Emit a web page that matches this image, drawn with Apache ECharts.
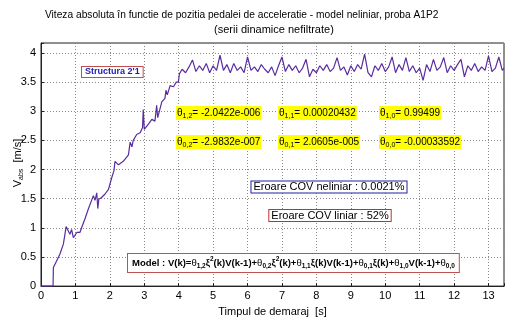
<!DOCTYPE html>
<html><head><meta charset="utf-8">
<script src="https://cdn.jsdelivr.net/npm/echarts@6/dist/echarts.min.js"></script>
<style>html,body{margin:0;padding:0;background:#fff}#c{width:513px;height:322px}</style>
</head><body><div id="c"></div>
<script>
const titleText = 'Viteza absoluta în functie de pozitia pedalei de acceleratie - model neliniar, proba A1P2';
const subtitleText = '(serii dinamice nefiltrate)';
const xAxisName = 'Timpul de demaraj  [s]';
const xTicks = [0,1,2,3,4,5,6,7,8,9,10,11,12,13];
const yTicks = [0,0.5,1,1.5,2,2.5,3,3.5,4];

const time = [0,0.35,0.36,0.46,0.55,0.65,0.73,0.79,0.84,0.89,0.94,0.99,1.04,1.08,1.13,1.18,1.28,1.38,1.47,1.52,1.57,1.62,1.65,1.68,1.76,1.86,1.96,2.05,2.12,2.15,2.25,2.39,2.54,2.59,2.64,2.68,2.78,2.88,2.95,2.97,3.0,3.12,3.22,3.31,3.36,3.39,3.51,3.6,3.63,3.67,3.75,3.85,3.93,3.99,4.02,
 4.1,4.2,4.3,4.4,4.5,4.6,4.7,4.8,4.9,5.0,5.1,5.2,5.3,5.4,5.5,5.6,5.7,5.8,5.9,6.0,6.1,6.2,6.3,6.4,6.5,6.6,6.7,6.8,6.9,7.0,7.1,7.2,7.3,7.4,7.5,7.6,7.7,7.8,7.9,8.0,8.1,8.2,8.3,8.4,8.5,8.6,8.7,8.8,8.9,9.0,9.1,9.2,9.3,9.4,9.5,9.6,9.7,9.8,9.9,10.0,10.1,10.2,10.3,10.4,10.5,10.6,10.7,10.8,10.9,11.0,11.1,11.2,11.3,11.4,11.5,11.6,11.7,11.8,11.9,12.0,12.1,12.2,12.3,12.4,12.5,12.6,12.7,12.8,12.9,13.0,13.1,13.2,13.3,13.4,13.45];
const speed = [0,0,0.32,0.44,0.55,0.72,1.02,0.95,0.89,0.97,0.83,0.86,0.92,0.89,0.92,1.0,1.16,1.33,1.47,1.55,1.47,1.60,1.33,1.49,1.52,1.58,1.66,1.85,1.98,2.14,2.08,2.14,2.25,2.47,2.39,2.5,2.6,2.63,2.72,3.03,2.69,2.78,2.86,2.83,3.1,2.89,3.16,3.22,3.36,3.28,3.44,3.42,3.5,3.5,3.64,
 3.72,3.66,3.76,3.88,3.68,3.78,3.70,3.82,3.66,3.78,3.70,3.96,3.70,3.80,3.66,3.82,3.70,3.76,3.66,3.93,3.70,3.76,3.68,3.80,3.72,3.66,3.76,3.61,3.78,3.93,3.68,3.80,3.70,3.78,3.66,3.74,3.89,3.59,3.72,3.66,3.78,3.70,3.80,3.68,3.74,3.92,3.70,3.76,3.62,3.78,3.68,3.80,3.72,3.98,3.66,3.59,3.78,3.70,3.82,3.68,3.76,3.93,3.66,3.80,3.70,3.92,3.68,3.78,3.66,3.74,3.53,3.80,3.68,3.89,3.70,3.76,3.92,3.66,3.78,3.70,3.80,3.89,3.59,3.78,3.70,3.82,3.68,3.76,3.70,3.95,3.68,3.74,3.93,3.70,3.74];

const thetaLabels = [
  ['1,2','= -2.0422e-006'],
  ['0,2','= -2.9832e-007'],
  ['1,1','= 0.00020432'],
  ['0,1','= 2.0605e-005'],
  ['1,0','= 0.99499'],
  ['0,0','= -0.00033592']
];
const structLabel = "Structura 2'1";
const errNonlin = 'Eroare COV neliniar : 0.0021%';
const errLin = 'Eroare COV liniar : 52%';

const F = 'Arial, "Liberation Sans", sans-serif';
const chart = echarts.init(document.getElementById('c'));

const subStyles = (color, fs, weight) => ({
  n: {fontSize: fs, fontFamily: F, color, fontWeight: weight, lineHeight: 14, verticalAlign: 'middle'},
  t: {fontSize: fs, fontFamily: F, color, fontWeight: 'normal', lineHeight: 14, verticalAlign: 'middle'},
  s: {fontSize: fs - 3, fontFamily: F, color, fontWeight: weight, lineHeight: 8, verticalAlign: 'bottom'},
  p: {fontSize: fs - 3, fontFamily: F, color, fontWeight: weight, lineHeight: 8, verticalAlign: 'top'}
});

const thetaPos = [[176,113],[176,142],[278,113],[278,142],[379,113],[379,142]];
const graphics = [];
thetaLabels.forEach((l, i) => {
  graphics.push({type:'text', x: thetaPos[i][0], y: thetaPos[i][1], z: 100,
    style: {text: '{t|θ}{s|' + l[0] + '}{n|' + l[1] + '}', rich: subStyles('#000', 10, 'normal'),
      align:'left', verticalAlign:'middle', backgroundColor:'#ffff00', padding:[0,1,0,1]}});
});
graphics.push({type:'text', x: 82, y: 72, z:100, style:{text: structLabel, font: 'bold 9px ' + F, fill:'#1c1ca8',
  align:'left', verticalAlign:'middle', backgroundColor:'#fff', borderColor:'#c05050', borderWidth:1, padding:[1,3,0,3]}});
graphics.push({type:'text', x: 329, y: 187, z:100, style:{text: errNonlin, font: '11px ' + F, fill:'#000',
  align:'center', verticalAlign:'middle', backgroundColor:'#fff', borderColor:'#2020a0', borderWidth:1, padding:[0,2,0,2]}});
graphics.push({type:'text', x: 330, y: 215.5, z:100, style:{text: errLin, font: '11px ' + F, fill:'#000',
  align:'center', verticalAlign:'middle', backgroundColor:'#fff', borderColor:'#c03030', borderWidth:1, padding:[0,2,0,2]}});
const modelRich = '{n|Model : V(k)=}{t|θ}{s|1,2}{n|ξ}{p|2}{n|(k)V(k-1)+}{t|θ}{s|0,2}{n|ξ}{p|2}{n|(k)+}{t|θ}{s|1,1}{n|ξ(k)V(k-1)+}{t|θ}{s|0,1}{n|ξ(k)+}{t|θ}{s|1,0}{n|V(k-1)+}{t|θ}{s|0,0}';
graphics.push({type:'text', x: 128, y: 263, z:100, style:{text: modelRich, rich: subStyles('#1c1ca8', 9.5, 'bold'),
  align:'left', verticalAlign:'middle', backgroundColor:'#fff', borderColor:'#c05050', borderWidth:1, padding:[2,4,2,4]}});
graphics.push({type:'text', x: 18, y: 163, rotation: Math.PI/2, z:100, style:{
  text: '{n|V}{s|abs}{n|  [m/s]}', rich: {
    n:{fontSize:11, fontFamily:F, color:'#000', lineHeight:14, verticalAlign:'middle'},
    s:{fontSize:7, fontFamily:F, color:'#000', lineHeight:8, verticalAlign:'bottom'}},
  align:'center', verticalAlign:'middle'}});

chart.setOption({
  animation: false,
  backgroundColor: '#fff',
  title: [
    {text: titleText, left: 40, top: 5, textStyle: {fontFamily: F, fontSize: 10.2, fontWeight: 'normal', color: '#000'}},
    {text: subtitleText, left: 209, top: 19, textStyle: {fontFamily: F, fontSize: 11, fontWeight: 'normal', color: '#000'}}
  ],
  grid: {left: 41, right: 9, top: 43, bottom: 28, show: true, borderColor: '#222', borderWidth: 1},
  xAxis: {type: 'value', min: 0, max: 13.45, interval: 1,
    name: xAxisName, nameLocation: 'middle', nameGap: 16,
    nameTextStyle: {fontFamily: F, fontSize: 11, color: '#000'},
    axisLine: {onZero:false, lineStyle: {color: '#222'}},
    axisTick: {inside: true, length: 3, lineStyle:{color:'#222'}},
    axisLabel: {fontFamily: F, fontSize: 11, color: '#000', margin: 4,
      formatter: v => xTicks.includes(v) ? String(v) : ''},
    splitLine: {lineStyle: {color: '#888', type: [1,2], width: 1}}},
  yAxis: {type: 'value', min: 0, max: 4.17, interval: 0.5,
    axisLine: {show: true, lineStyle: {color: '#222'}},
    axisTick: {inside: true, length: 3, lineStyle:{color:'#222'}},
    axisLabel: {fontFamily: F, fontSize: 11, color: '#000', margin: 5,
      formatter: v => yTicks.includes(v) ? String(v) : ''},
    splitLine: {lineStyle: {color: '#888', type: [1,2], width: 1}}},
  series: [{type: 'line', data: time.map((t, i) => [t, speed[i]]), showSymbol: false,
    lineStyle: {color: '#5a2ca0', width: 1.2}, clip: true}],
  graphic: graphics
});
</script></body></html>
